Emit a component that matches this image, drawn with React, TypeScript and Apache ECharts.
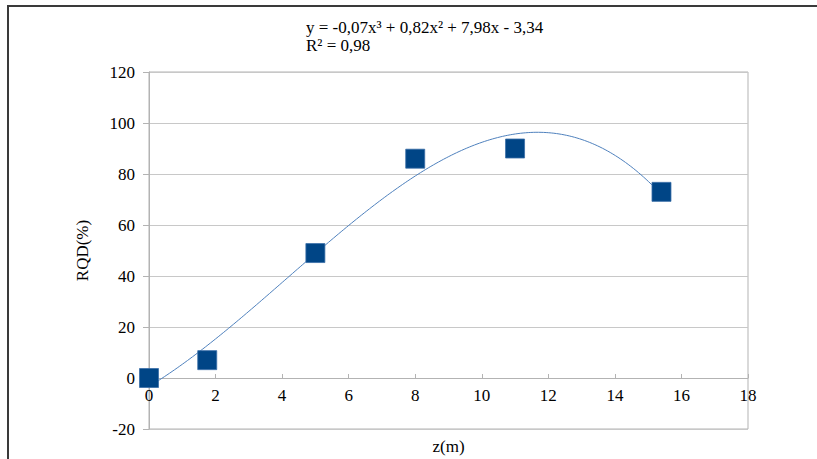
import React, { useEffect, useRef } from "react";
import * as echarts from "echarts";

// Measured depth (m) and RQD (%)
const depthM: number[] = [0, 1.75, 5, 8, 11, 15.4];
const rqdPct: number[] = [0, 7, 49, 86, 90, 73];

const xTickMin = 0;
const xTickMax = 18;
const xTickStep = 2;
const yTickMin = -20;
const yTickMax = 120;
const yTickStep = 20;

const equationText = "y = -0,07x³ + 0,82x² + 7,98x - 3,34";
const r2Text = "R² = 0,98";

// Least-squares cubic fit (Excel-style polynomial trendline of order 3)
function fitCubic(xs: number[], ys: number[]): number[] {
  const n = 4;
  const A: number[][] = [];
  for (let r = 0; r < n; r++) {
    const row: number[] = [];
    for (let c = 0; c < n; c++) {
      let s = 0;
      for (let i = 0; i < xs.length; i++) s += Math.pow(xs[i], r + c);
      row.push(s);
    }
    let b = 0;
    for (let i = 0; i < xs.length; i++) b += ys[i] * Math.pow(xs[i], r);
    row.push(b);
    A.push(row);
  }
  for (let p = 0; p < n; p++) {
    let best = p;
    for (let r = p + 1; r < n; r++) if (Math.abs(A[r][p]) > Math.abs(A[best][p])) best = r;
    [A[p], A[best]] = [A[best], A[p]];
    for (let r = 0; r < n; r++) {
      if (r === p) continue;
      const f = A[r][p] / A[p][p];
      for (let c = p; c <= n; c++) A[r][c] -= f * A[p][c];
    }
  }
  return A.map((row, i) => row[n] / row[i]); // [c0, c1, c2, c3]
}

function trendPoints(xs: number[], ys: number[]): number[][] {
  const [c0, c1, c2, c3] = fitCubic(xs, ys);
  const lo = Math.min(...xs);
  const hi = Math.max(...xs);
  const steps = 200;
  const pts: number[][] = [];
  for (let k = 0; k <= steps; k++) {
    const x = lo + ((hi - lo) * k) / steps;
    pts.push([x, c0 + c1 * x + c2 * x * x + c3 * x * x * x]);
  }
  return pts;
}

const FONT = "Liberation Serif";
const FS = 17;

// plot box
const GRID_TOP = 72;
const GRID_BOTTOM = 30;
const CHART_H = 459;
const plotH = CHART_H - GRID_TOP - GRID_BOTTOM;
// the x axis sits on y = 0: shift it up from the bottom edge of the plot
const xAxisOffset = -Math.round((plotH * (0 - yTickMin)) / (yTickMax - yTickMin));

export default function App() {
  const ref = useRef<HTMLDivElement>(null);

  useEffect(() => {
    if (!ref.current) return;
    const chart = echarts.init(ref.current, undefined, { renderer: "svg" });
    chart.setOption({
      animation: false,
      backgroundColor: "#ffffff",
      textStyle: { fontFamily: FONT },
      graphic: [
        {
          type: "rect",
          shape: { x: 8, y: 6, width: 840, height: 480 },
          style: { fill: "none", stroke: "#3a3a3a", lineWidth: 2 },
          silent: true,
        },
      ],
      title: {
        text: equationText + "\n" + r2Text,
        left: 301,
        top: 13,
        textStyle: {
          fontFamily: FONT,
          fontSize: FS,
          fontWeight: "normal",
          color: "#000000",
          lineHeight: 18,
        },
      },
      grid: {
        left: 149,
        right: 69,
        top: GRID_TOP,
        bottom: GRID_BOTTOM,
        outerBoundsMode: "none",
        containLabel: false,
        show: true,
        borderColor: "#b3b3b3",
        borderWidth: 1,
        backgroundColor: "transparent",
      },
      xAxis: {
        type: "value",
        min: xTickMin,
        max: xTickMax,
        interval: xTickStep,
        offset: xAxisOffset,
        name: "z(m)",
        nameLocation: "middle",
        nameGap: 60,
        nameMoveOverlap: false,
        nameTextStyle: { fontFamily: FONT, fontSize: FS, color: "#000000" },
        axisLine: { show: true, onZero: false, lineStyle: { color: "#b3b3b3", width: 1 } },
        axisTick: { show: true, inside: true, length: 4, lineStyle: { color: "#b3b3b3" } },
        axisLabel: { fontFamily: FONT, fontSize: FS, color: "#000000", margin: 9 },
        splitLine: { show: false },
      },
      yAxis: {
        type: "value",
        min: yTickMin,
        max: yTickMax,
        interval: yTickStep,
        name: "RQD(%)",
        nameLocation: "middle",
        nameGap: 58,
        nameMoveOverlap: false,
        nameTextStyle: { fontFamily: FONT, fontSize: FS, color: "#000000" },
        axisLine: { show: true, lineStyle: { color: "#b3b3b3", width: 1 } },
        axisTick: { show: true, length: 6, lineStyle: { color: "#b3b3b3" } },
        axisLabel: { fontFamily: FONT, fontSize: FS, color: "#000000", margin: 14 },
        splitLine: { show: true, lineStyle: { color: "#c8c8c8", width: 1 } },
      },
      series: [
        {
          type: "line",
          data: trendPoints(depthM, rqdPct),
          showSymbol: false,
          smooth: false,
          lineStyle: { color: "#4f81bd", width: 1 },
          z: 2,
          silent: true,
        },
        {
          type: "scatter",
          data: depthM.map((x, i) => [x, rqdPct[i]]),
          symbol: "rect",
          symbolSize: 19,
          itemStyle: { color: "#004586", borderColor: "#3a6ea8", borderWidth: 0.8, opacity: 1 },
          z: 3,
        },
      ],
    });
    return () => chart.dispose();
  }, []);

  return (
    <div
      ref={ref}
      style={{ position: "fixed", left: 0, top: 0, width: 817, height: 459 }}
    />
  );
}
